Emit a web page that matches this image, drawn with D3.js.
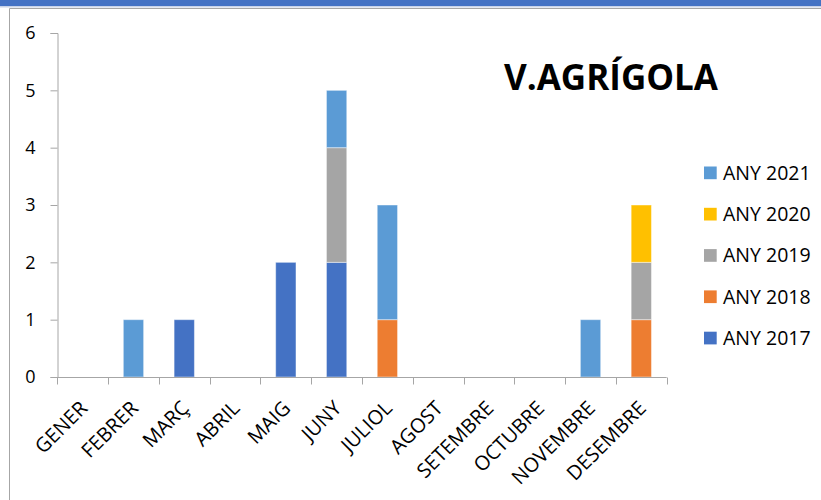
<!DOCTYPE html>
<html>
<head>
<meta charset="utf-8">
<script src="https://cdn.jsdelivr.net/npm/d3@7"></script>
<style>
  html, body { margin: 0; padding: 0; background: #ffffff; }
  svg { display: block; }
  text { font-family: "Open Sans", "Noto Sans", sans-serif; fill: #000; }
</style>
</head>
<body>
<svg id="chart" width="821" height="500"></svg>
<script>
// Months (Catalan) on the category axis
const months = ["GENER", "FEBRER", "MARÇ", "ABRIL", "MAIG", "JUNY", "JULIOL",
                "AGOST", "SETEMBRE", "OCTUBRE", "NOVEMBRE", "DESEMBRE"];

// One array per year, stacked bottom to top in this order
const years = ["ANY 2017", "ANY 2018", "ANY 2019", "ANY 2020", "ANY 2021"];
const any2017 = [0, 0, 1, 0, 2, 2, 0, 0, 0, 0, 0, 0];
const any2018 = [0, 0, 0, 0, 0, 0, 1, 0, 0, 0, 0, 1];
const any2019 = [0, 0, 0, 0, 0, 2, 0, 0, 0, 0, 0, 1];
const any2020 = [0, 0, 0, 0, 0, 0, 0, 0, 0, 0, 0, 1];
const any2021 = [0, 1, 0, 0, 0, 1, 2, 0, 0, 0, 1, 0];
const yTicks = [0, 1, 2, 3, 4, 5, 6];
const title = "V.AGRÍGOLA";

const colors = {
  "ANY 2017": "#4472C4",
  "ANY 2018": "#ED7D31",
  "ANY 2019": "#A5A5A5",
  "ANY 2020": "#FFC000",
  "ANY 2021": "#5B9BD5"
};

const seriesValues = [any2017, any2018, any2019, any2020, any2021];
const rows = months.map((m, i) => {
  const r = { month: m };
  years.forEach((y, k) => { r[y] = seriesValues[k][i]; });
  return r;
});

const svg = d3.select("#chart");

// Window band and chart frame
svg.append("rect").attr("x", 0).attr("y", 0).attr("width", 821).attr("height", 6).attr("fill", "#4472C4");
svg.append("rect").attr("x", 0).attr("y", 6).attr("width", 821).attr("height", 1.5).attr("fill", "#c9d3e8");
svg.append("path")
  .attr("d", "M9.5,500 V8.5 H821")
  .attr("fill", "none").attr("stroke", "#a6a6a6").attr("stroke-width", 1);

const x = d3.scaleBand().domain(months).range([57.3, 666.7]).paddingInner(0).paddingOuter(0);
const y = d3.scaleLinear().domain([0, 6]).range([377, 33]);

// Stacked bars
const stack = d3.stack().keys(years);
const layers = stack(rows);
const barW = x.bandwidth() * 0.4;

svg.append("g").selectAll("g")
  .data(layers)
  .join("g")
  .attr("fill", d => colors[d.key])
  .selectAll("rect")
  .data(d => d.filter(p => p[1] - p[0] > 0))
  .join("rect")
  .attr("x", d => x(d.data.month) + (x.bandwidth() - barW) / 2)
  .attr("y", d => y(d[1]))
  .attr("width", barW)
  .attr("height", d => y(d[0]) - y(d[1]))
  .attr("stroke", "#ffffff")
  .attr("stroke-opacity", 0.45)
  .attr("stroke-width", 1);

// Y axis
const yAxis = svg.append("g")
  .attr("transform", "translate(57.5,0)")
  .call(d3.axisLeft(y).tickValues(yTicks).tickFormat(d3.format("d")).tickSize(7).tickPadding(15));
yAxis.select(".domain").attr("stroke", "#a6a6a6");
yAxis.selectAll(".tick line").attr("stroke", "#a6a6a6");
yAxis.selectAll(".tick text")
  .attr("font-size", 18)
  .attr("font-family", "Open Sans, sans-serif")
  .attr("fill", "#000");

// X axis with ticks on band edges
const xAxisG = svg.append("g").attr("transform", "translate(0,377.5)");
xAxisG.append("line")
  .attr("x1", x.range()[0]).attr("x2", x.range()[1])
  .attr("stroke", "#a6a6a6");
const edges = months.map(m => x(m)).concat([x.range()[1]]);
xAxisG.selectAll("line.edge")
  .data(edges)
  .join("line")
  .attr("class", "edge")
  .attr("x1", d => Math.round(d) + 0.5).attr("x2", d => Math.round(d) + 0.5)
  .attr("y1", 0).attr("y2", 7)
  .attr("stroke", "#a6a6a6");
xAxisG.selectAll("text")
  .data(months)
  .join("text")
  .attr("text-anchor", "end")
  .attr("dy", "0.35em")
  .attr("font-size", 20)
  .attr("transform", d => `translate(${x(d) + x.bandwidth() / 2 + 1},${27}) rotate(-45)`)
  .text(d => d);

// Title
svg.append("text")
  .attr("x", 611)
  .attr("y", 90)
  .attr("text-anchor", "middle")
  .attr("font-size", 35)
  .attr("font-weight", "bold")
  .text(title);

// Legend, latest year on top
const legendYears = years.slice().reverse();
const legend = svg.append("g").selectAll("g")
  .data(legendYears)
  .join("g")
  .attr("transform", (d, i) => `translate(704,${173 + i * 41.3})`);
legend.append("rect")
  .attr("x", 0).attr("y", -6.5)
  .attr("width", 12.7).attr("height", 12.7)
  .attr("fill", d => colors[d]);
legend.append("text")
  .attr("x", 19)
  .attr("dy", "0.35em")
  .attr("font-size", 19.5)
  .text(d => d);
</script>
</body>
</html>
